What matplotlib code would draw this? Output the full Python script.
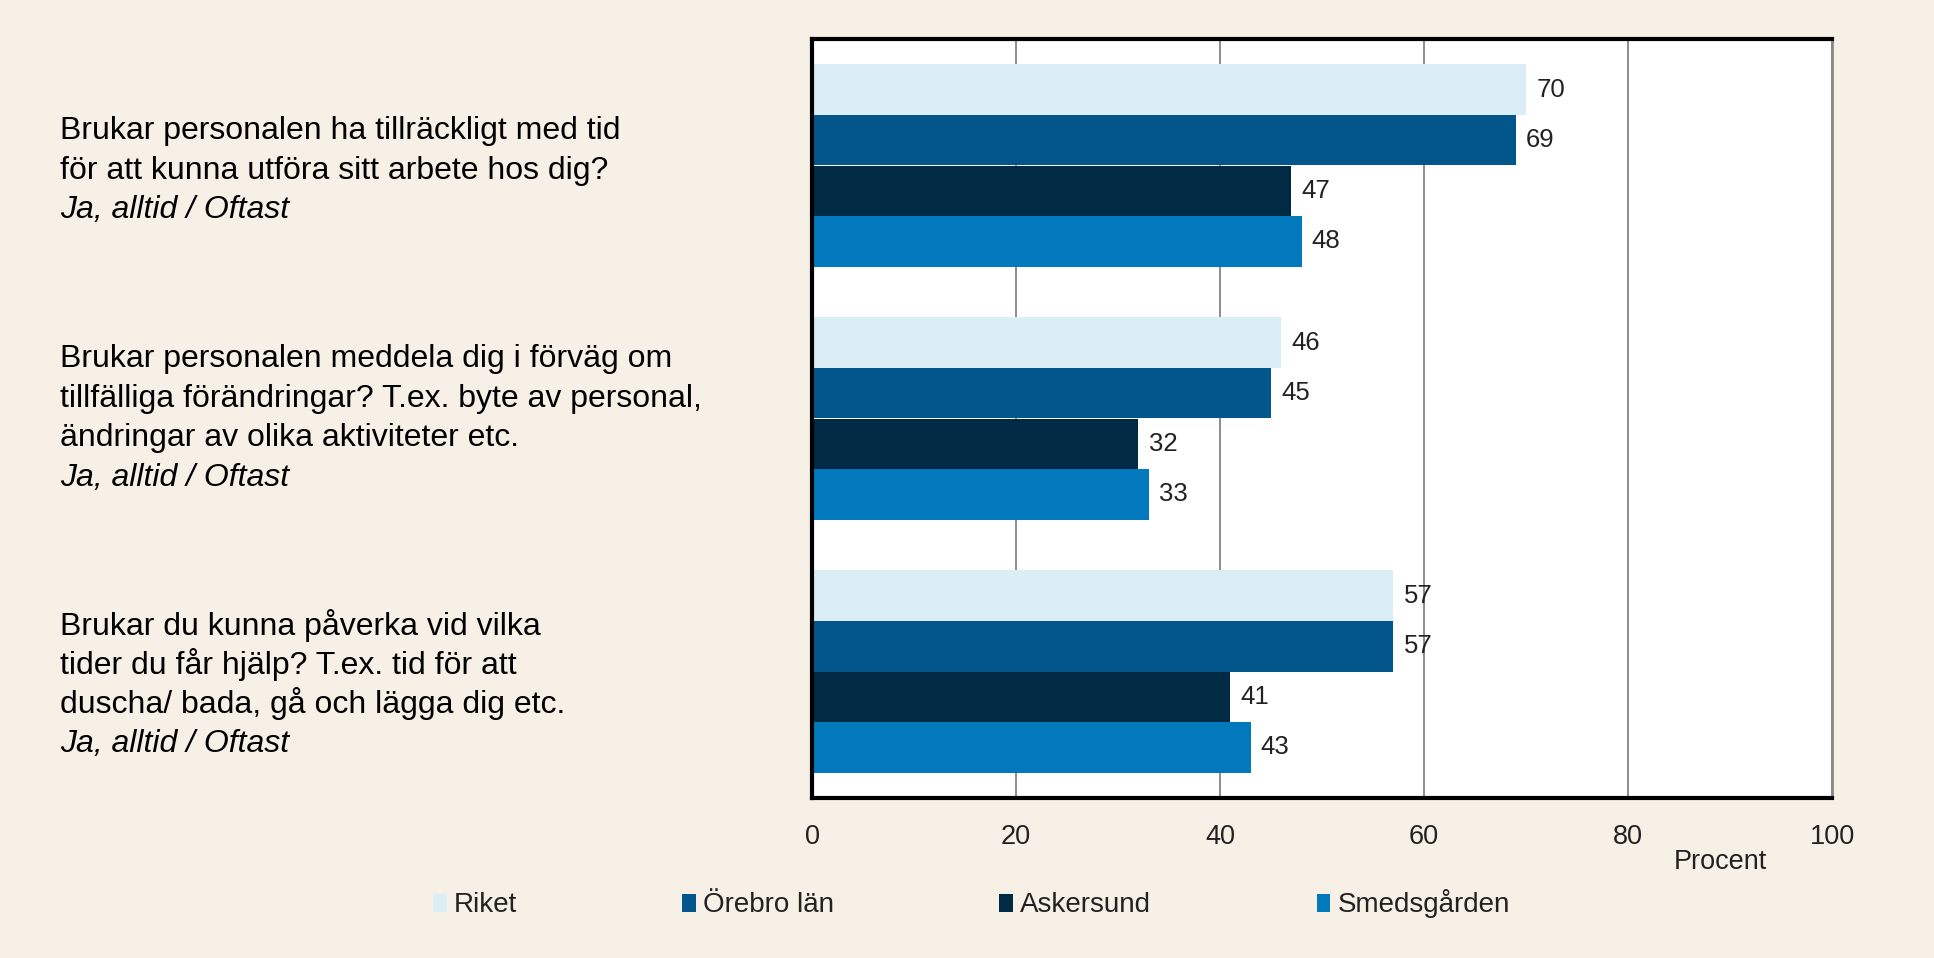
# -*- coding: utf-8 -*-
"""
Horizontal grouped bar chart: share answering 'Ja, alltid / Oftast'
for three questions, four areas.
"""
import matplotlib.pyplot as plt
from matplotlib.patches import Patch
import numpy as np

# Data
series = ['Riket', 'Örebro län', 'Askersund', 'Smedsgården']
riket = [70, 46, 57]
orebro = [69, 45, 57]
askersund = [47, 32, 41]
smedsgarden = [48, 33, 43]
values = [riket, orebro, askersund, smedsgarden]

questions = [
    ['Brukar personalen ha tillräckligt med tid',
     'för att kunna utföra sitt arbete hos dig?'],
    ['Brukar personalen meddela dig i förväg om',
     'tillfälliga förändringar? T.ex. byte av personal,',
     'ändringar av olika aktiviteter etc.'],
    ['Brukar du kunna påverka vid vilka',
     'tider du får hjälp? T.ex. tid för att',
     'duscha/ bada, gå och lägga dig etc.'],
]
answer = 'Ja, alltid / Oftast'
xticks = [0, 20, 40, 60, 80, 100]

# Style
bg = '#F7F0E6'
colors = ['#DCEEF5', '#02568C', '#012B44', '#0279BD']
font = 'Liberation Sans'
W, H = 1934, 958

FIG = plt.figure(figsize=(W / 100, H / 100), dpi=100, facecolor=bg)
AX = FIG.add_axes([812 / W, 1 - 798 / H, (1832 - 812) / W, (798 - 39) / H])
AX.set_facecolor('white')

ngroups = len(riket)
bar_h = 0.2
ypos = np.arange(ngroups)
for i, (name, vals) in enumerate(zip(series, values)):
    y = ypos + (i - 1.5) * bar_h
    AX.barh(y, vals, height=bar_h, color=colors[i], edgecolor='none',
            label=name, zorder=2)
    for yy, v in zip(y, vals):
        AX.text(v + 1.0, yy, str(v), va='center', ha='left',
                fontsize=18.5, family=font, color='#222222', zorder=3)

AX.set_xlim(0, 100)
AX.set_ylim(2.5, -0.5)
AX.set_yticks([])
AX.set_xticks(xticks)
AX.set_xticklabels([str(t) for t in xticks], family=font, fontsize=19.5,
                   color='#222222')
AX.tick_params(axis='x', length=0, pad=19)
AX.grid(axis='x', color='#8c8c8c', linewidth=1.4, zorder=1)
AX.set_axisbelow(True)

for s in ['top', 'left', 'bottom']:
    AX.spines[s].set_color('black')
    AX.spines[s].set_linewidth(3)
AX.spines['right'].set_color('#8a8a8a')
AX.spines['right'].set_linewidth(2)

# 'Procent' axis title under the 80-100 ticks
FIG.text(1720 / W, 1 - 862 / H, 'Procent', ha='center', va='center',
         family=font, fontsize=19.5, color='#222222')

# Question text on the left
first_line = [131, 359, 625]   # pixel y of first line centre
step = 39.5
for q, y0 in zip(questions, first_line):
    for k, line in enumerate(q):
        FIG.text(60 / W, 1 - (y0 + k * step) / H, line, ha='left',
                 va='center', family=font, fontsize=23, color='black')
    FIG.text(60 / W, 1 - (y0 + len(q) * step) / H, answer, ha='left',
             va='center', family=font, fontsize=23, style='italic',
             color='black')

# Legend
handles = [Patch(facecolor=c, edgecolor='none') for c in colors]
FIG.legend(handles, series, loc='center left',
           bbox_to_anchor=(433 / W, 1 - 904 / H), ncol=4, frameon=False,
           prop={'family': font, 'size': 20}, handlelength=0.5,
           handleheight=0.6, handletextpad=0.25, columnspacing=5.95,
           borderpad=0, borderaxespad=0, labelcolor='#222222')

plt.savefig('out.png', dpi=100, facecolor=bg)
